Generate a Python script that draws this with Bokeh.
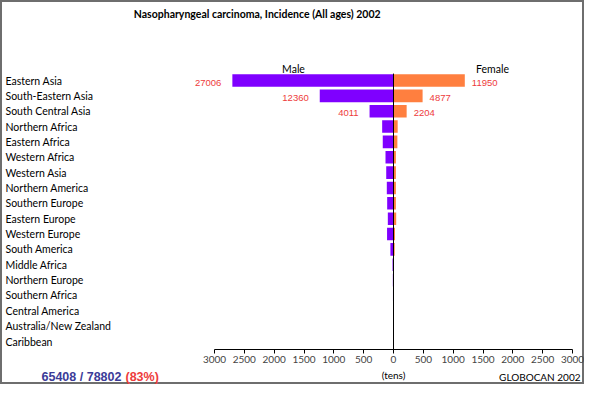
from bokeh.plotting import figure
from bokeh.layouts import column
from bokeh.models import Range1d, LinearAxis, FixedTicker, ColumnDataSource
from bokeh.core.properties import value
from bokeh.embed import file_html
from bokeh.resources import INLINE

# ---- data (cases) ----
regions = ["Eastern Asia", "South-Eastern Asia", "South Central Asia", "Northern Africa",
           "Eastern Africa", "Western Africa", "Western Asia", "Northern America",
           "Southern Europe", "Eastern Europe", "Western Europe", "South America",
           "Middle Africa", "Northern Europe", "Southern Africa", "Central America",
           "Australia/New Zealand", "Caribbean"]
male = [27006, 12360, 4011, 1900, 1800, 1340, 1220, 1120, 1060, 950, 1080, 520,
        160, 110, 90, 70, 30, 20]
female = [11950, 4877, 2204, 700, 650, 400, 400, 400, 400, 450, 250, 200,
          80, 60, 40, 30, 10, 8]
labelled_rows = 3
tick_values = [-3000, -2500, -2000, -1500, -1000, -500, 0, 500, 1000, 1500, 2000, 2500, 3000]
shown_cases = 65408
total_cases = 78802
shown_pct = 83
title_text = "Nasopharyngeal carcinoma, Incidence (All ages)  2002"
source_text = "GLOBOCAN 2002"
unit_text = "(tens)"

# ---- layout constants (pixels) ----
W = 584
H_MAIN, H_FOOT = 366, 18
FRAME_H = 349
SHIFT = -7                          # chart part moved left so the 3000 label fits
AX_L, AX_R = 221.0 + SHIFT, 579.0 + SHIFT   # pixel of -3000 / +3000
ROW0, ROW17 = 80.0, 341.0           # pixel centres of first / last row
ppu = (AX_R - AX_L) / 6000.0
ppr = (ROW17 - ROW0) / 17.0

def xd(px):
    return -3000 + (px - AX_L) / ppu

def yd(py):
    return (py - ROW0) / ppr

FONT = "Lato"
VFONT = "Liberation Sans"
MALE_C = "#7F00FF"
FEMALE_C = "#FF7F3F"
RED = "#EE3B3B"
BLUE = "#3B3B98"

xr = Range1d(xd(0), xd(W))

p = figure(width=W, height=H_MAIN, output_backend="svg", toolbar_location=None,
           x_range=xr, y_range=Range1d(yd(FRAME_H), yd(0)),
           min_border_left=0, min_border_right=0, min_border_top=0,
           min_border_bottom=H_MAIN - FRAME_H, x_axis_type=None, y_axis_type=None)
p.xgrid.visible = False
p.ygrid.visible = False
p.outline_line_color = None
p.background_fill_color = None
p.border_fill_color = None

idx = list(range(len(regions)))
src = ColumnDataSource(dict(
    y=idx, region=regions,
    m=[-v / 10 for v in male], f=[v / 10 for v in female],
))
p.hbar(y="y", left="m", right=0, height=0.82, source=src, fill_color=MALE_C, line_color=None)
p.hbar(y="y", left=0, right="f", height=0.82, source=src, fill_color=FEMALE_C, line_color=None)

# centre line
p.segment(x0=[0], y0=[-0.45], x1=[0], y1=[yd(FRAME_H)], line_color="black", line_width=1)

# value labels
lab = ColumnDataSource(dict(
    y=idx[:labelled_rows],
    m=[-v / 10 for v in male[:labelled_rows]],
    f=[v / 10 for v in female[:labelled_rows]],
    mt=[str(v) for v in male[:labelled_rows]],
    ft=[str(v) for v in female[:labelled_rows]],
))
p.text(x="m", y="y", text="mt", source=lab, x_offset=-11, y_offset=2, text_align="right",
       text_baseline="middle", text_color=RED, text_font=value(VFONT), text_font_size="9.5px")
p.text(x="f", y="y", text="ft", source=lab, x_offset=7, y_offset=2, text_align="left",
       text_baseline="middle", text_color=RED, text_font=value(VFONT), text_font_size="9.5px")

# region labels
p.text(x=xd(5), y="y", text="region", source=src, text_align="left", text_baseline="middle",
       text_color="black", text_font=value(FONT), text_font_size="10.5px")

# headers
p.text(x=[xd(300 + SHIFT), xd(499 + SHIFT)], y=[yd(68), yd(68)], text=["Male", "Female"],
       text_align="center", text_baseline="middle", text_font=value(FONT),
       text_font_size="10.5px", text_color="black")
p.text(x=[xd(258)], y=[yd(13)], text=[title_text], text_align="center", text_baseline="middle",
       text_font=value(FONT), text_font_size="10.5px", text_font_style="bold", text_color="black")

# axis
ax = LinearAxis(bounds=(-3000, 3000), ticker=FixedTicker(ticks=tick_values, minor_ticks=[]),
                major_label_overrides={t: str(abs(t)) for t in tick_values},
                major_label_text_font=FONT, major_label_text_font_size="10px",
                major_tick_in=0, major_tick_out=4, minor_tick_out=0,
                major_label_standoff=2, axis_line_color="black", major_tick_line_color="black")
p.add_layout(ax, "below")

# footer strip
q = figure(width=W, height=H_FOOT, output_backend="svg", toolbar_location=None,
           x_range=xr, y_range=Range1d(H_FOOT, 0),
           min_border_left=0, min_border_right=0, min_border_top=0, min_border_bottom=0,
           x_axis_type=None, y_axis_type=None)
q.xgrid.visible = False
q.ygrid.visible = False
q.outline_line_color = None
q.background_fill_color = None
q.border_fill_color = None

FY = 10.5   # baseline of the footer line
q.text(x=[0], y=[8.0], text=[unit_text], text_align="center", text_baseline="alphabetic",
       text_font=value(FONT), text_font_size="10px", text_color="black")
q.text(x=[xd(41)], y=[FY], text=[f"{shown_cases} / {total_cases}"], text_align="left",
       text_baseline="alphabetic", text_font=value(VFONT), text_font_size="12.5px",
       text_font_style="bold", text_color=BLUE)
q.text(x=[xd(125)], y=[FY], text=[f"({shown_pct}%)"], text_align="left",
       text_baseline="alphabetic", text_font=value(VFONT), text_font_size="12.5px",
       text_font_style="bold", text_color=RED)
q.text(x=[xd(580)], y=[FY], text=[source_text], text_align="right",
       text_baseline="alphabetic", text_font=value(FONT), text_font_size="10px",
       text_color="black")

layout = column(p, q, spacing=0,
                styles={"background-color": "white",
                        "box-shadow": "inset 0 0 0 2px #6e6e6e"})

open("out.html", "w").write(file_html(layout, INLINE))
